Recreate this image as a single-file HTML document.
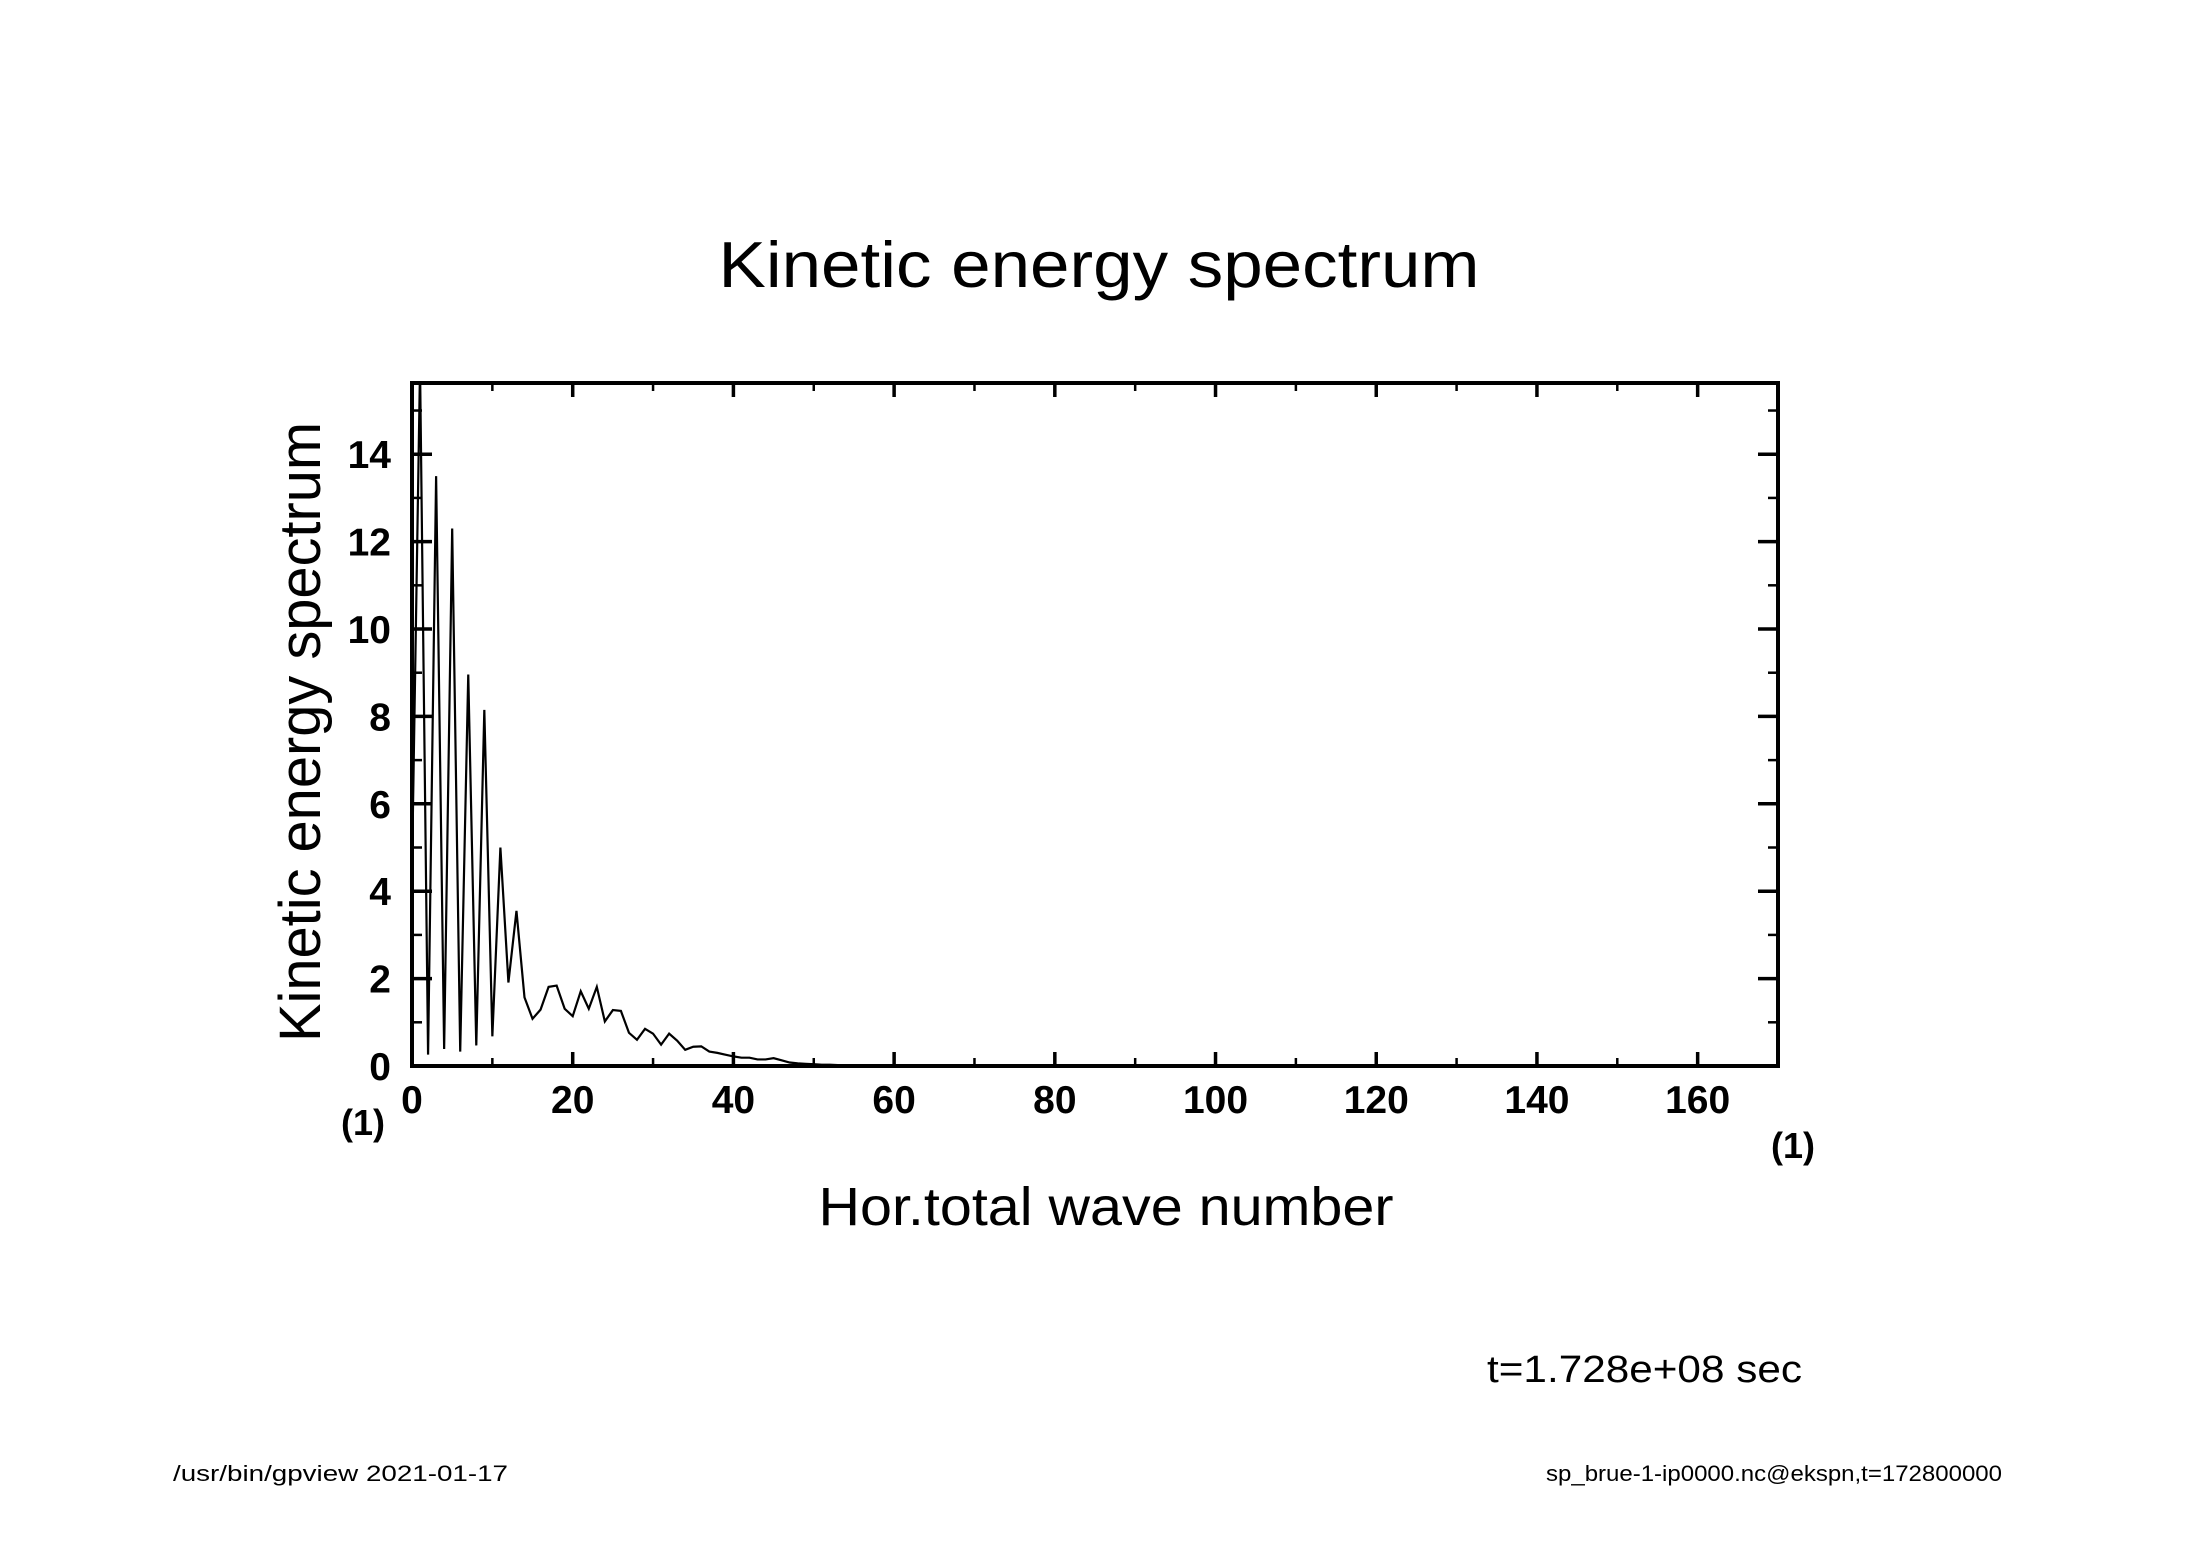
<!DOCTYPE html>
<html><head><meta charset="utf-8"><style>
html,body{margin:0;padding:0;background:#fff;}
svg{display:block;}
text{font-family:"Liberation Sans",sans-serif;fill:#000;}
</style></head><body>
<svg id="chart" width="2188" height="1546" viewBox="0 0 2188 1546" xmlns="http://www.w3.org/2000/svg">
<rect width="2188" height="1546" fill="#fff"/>
<text x="1099" y="287" font-size="65" text-anchor="middle" textLength="761" lengthAdjust="spacingAndGlyphs">Kinetic energy spectrum</text>
<text x="0" y="0" font-size="58" text-anchor="middle" textLength="620" lengthAdjust="spacingAndGlyphs" transform="translate(320,732) rotate(-90)">Kinetic energy spectrum</text>
<text x="1106" y="1225" font-size="54" text-anchor="middle" textLength="575" lengthAdjust="spacingAndGlyphs">Hor.total wave number</text>
<text x="363" y="1135" font-size="36" font-weight="bold" text-anchor="middle">(1)</text>
<text x="1793" y="1158" font-size="36" font-weight="bold" text-anchor="middle">(1)</text>
<text x="1487" y="1382" font-size="38" textLength="315" lengthAdjust="spacingAndGlyphs">t=1.728e+08 sec</text>
<text x="173" y="1481" font-size="22" textLength="335" lengthAdjust="spacingAndGlyphs">/usr/bin/gpview  2021-01-17</text>
<text x="1546" y="1481" font-size="22" textLength="456" lengthAdjust="spacingAndGlyphs">sp_brue-1-ip0000.nc@ekspn,t=172800000</text>
<g id="plot"></g>
</svg>
<script>
const wavenumbers = [];
for (let i = 0; i <= 170; i++) wavenumbers.push(i);
const energyHead = [4.5,16,0.26,13.5,0.39,12.3,0.33,8.96,0.47,8.15,0.68,5.0,1.91,3.55,1.57,1.08,1.29,1.81,1.84,1.31,1.14,1.71,1.31,1.81,1.02,1.28,1.26,0.76,0.60,0.85,0.74,0.49,0.74,0.58,0.37,0.44,0.45,0.33,0.30,0.26,0.22,0.19,0.19,0.15,0.15,0.18,0.13,0.08,0.06,0.05,0.04,0.03,0.03,0.02,0.02,0.01,0.01,0.01,0.005,0.005,0.005];
const xTickLabels = [0,20,40,60,80,100,120,140,160];
const yTickLabels = [0,2,4,6,8,10,12,14];

const L=412,R=1778,T=383,B=1066,XMAX=170,YMAX=15.63;
const sx=v=>L+(R-L)*v/XMAX;
const sy=v=>B-(B-T)*v/YMAX;
const NS="http://www.w3.org/2000/svg";
const g=document.getElementById('plot');
function mk(tag,attrs){const e=document.createElementNS(NS,tag);for(const k in attrs)e.setAttribute(k,attrs[k]);g.appendChild(e);return e;}

const energy = wavenumbers.map((k,i)=> i<energyHead.length?energyHead[i]:0.002);
const clip=mk('clipPath',{id:'pc'});
const cr=document.createElementNS(NS,'rect');cr.setAttribute('x',L);cr.setAttribute('y',T);cr.setAttribute('width',R-L);cr.setAttribute('height',B-T);clip.appendChild(cr);
let d='';
wavenumbers.forEach((k,i)=>{d+=(i?'L':'M')+sx(k).toFixed(2)+','+sy(energy[i]).toFixed(2);});
const line=mk('path',{d:d,fill:'none',stroke:'#000','stroke-width':2.2,'stroke-linejoin':'miter','clip-path':'url(#pc)'});



for(let v=0;v<=XMAX;v+=10){
  const major=v%20===0, len=major?14:8, w=major?3.5:2.5;
  const x=sx(v);
  const t1=mk('line',{x1:x,y1:B,x2:x,y2:B-len,stroke:'#000','stroke-width':w});
  
  
  const t2=mk('line',{x1:x,y1:T,x2:x,y2:T+len,stroke:'#000','stroke-width':w});
  
  
}
for(let v=0;v<=15;v+=1){
  const major=v%2===0, len=major?20:10, w=major?3.5:2.5;
  const y=sy(v);
  const t1=mk('line',{x1:L,y1:y,x2:L+len,y2:y,stroke:'#000','stroke-width':w});
  
  
  const t2=mk('line',{x1:R,y1:y,x2:R-len,y2:y,stroke:'#000','stroke-width':w});
  
  
}
xTickLabels.forEach(v=>{
  const t=mk('text',{x:sx(v),y:1113,'font-size':39,'font-weight':'bold','text-anchor':'middle'});
  t.textContent=v;
  
  
});
yTickLabels.forEach(v=>{
  const t=mk('text',{x:391,y:sy(v)+14,'font-size':39,'font-weight':'bold','text-anchor':'end'});
  t.textContent=v;
  
  
});
const fr=mk('rect',{x:L,y:T,width:R-L,height:B-T,fill:'none',stroke:'#000','stroke-width':4});


</script>
</body></html>
